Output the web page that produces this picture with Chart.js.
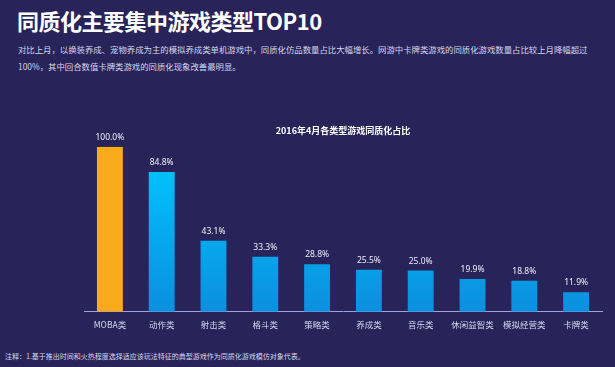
<!DOCTYPE html>
<html>
<head>
<meta charset="utf-8">
<script src="https://cdn.jsdelivr.net/npm/chart.js@4"></script>
<style>
  html, body { margin: 0; padding: 0; }
  body {
    width: 615px; height: 367px; overflow: hidden; position: relative;
    background: #28245a; font-family: "Noto Sans CJK SC", "Noto Sans", sans-serif; color: #fff;
  }
  #head { position: absolute; left: 17px; top: 4px; font-size: 22px; font-weight: bold; letter-spacing: -0.5px; }
  #desc { position: absolute; left: 18px; top: 41px; font-size: 8.4px; line-height: 17px; color: #d6d6ea; white-space: nowrap; }
  #note { position: absolute; left: 5px; top: 351px; font-size: 7px; color: #d6d6ea; white-space: nowrap; }
  #wrap { position: absolute; left: 0; top: 0; width: 615px; height: 367px; }
</style>
</head>
<body>
<div id="head">同质化主要集中游戏类型TOP10</div>
<div id="desc">对比上月，以换装养成、宠物养成为主的模拟养成类单机游戏中，同质化仿品数量占比大幅增长。网游中卡牌类游戏的同质化游戏数量占比较上月降幅超过<br>100%，其中回合数值卡牌类游戏的同质化现象改善最明显。</div>
<div id="note">注释：1.基于推出时间和火热程度选择适应该玩法特征的典型游戏作为同质化游戏模仿对象代表。</div>
<div id="wrap"><canvas id="chart"></canvas></div>
<script>
const categories = ['MOBA类', '动作类', '射击类', '格斗类', '策略类', '养成类', '音乐类', '休闲益智类', '模拟经营类', '卡牌类'];
const shares = [100.0, 84.8, 43.1, 33.3, 28.8, 25.5, 25.0, 19.9, 18.8, 11.9];
const chartTitle = '2016年4月各类型游戏同质化占比';

// value labels above each bar
const valueLabels = {
    id: 'valueLabels',
    afterDatasetsDraw(chart) {
        const ctx = chart.ctx;
        const meta = chart.getDatasetMeta(0);
        ctx.save();
        ctx.fillStyle = '#eeeef8';
        ctx.font = '8.5px "Noto Sans", sans-serif';
        ctx.textAlign = 'center';
        ctx.textBaseline = 'bottom';
        meta.data.forEach((bar, i) => {
            ctx.fillText(shares[i].toFixed(1) + '%', bar.x, bar.y - 5);
        });
        ctx.restore();
    }
};

function barColor(context) {
    if (context.dataIndex === 0) return '#f9ab1c';
    const area = context.chart.chartArea;
    if (!area) return '#00b4f4';
    const g = context.chart.ctx.createLinearGradient(0, area.top, 0, area.bottom);
    g.addColorStop(0, '#00c8ff');
    g.addColorStop(1, '#0b8fdf');
    return g;
}

new Chart(document.getElementById('chart'), {
    type: 'bar',
    data: {
        labels: categories,
        datasets: [{
            data: shares,
            backgroundColor: barColor,
            barPercentage: 0.5,
            categoryPercentage: 1
        }]
    },
    options: {
        responsive: true,
        maintainAspectRatio: false,
        animation: false,
        layout: { padding: { left: 84, right: 13, top: 0, bottom: 29 } },
        plugins: {
            legend: { display: false },
            tooltip: { enabled: false },
            title: {
                display: true,
                text: chartTitle,
                color: '#ffffff',
                font: { size: 9, weight: 'bold', family: '"Noto Sans CJK SC", sans-serif' },
                padding: { top: 125, bottom: 11 }
            }
        },
        scales: {
            x: {
                grid: { display: false, drawTicks: false },
                border: { color: '#9ea3dc', width: 1 },
                ticks: { color: '#d4d6ee', font: { size: 8.5, family: '"Noto Sans CJK SC", sans-serif' }, padding: 8 }
            },
            y: {
                display: false,
                min: 0,
                max: 100
            }
        }
    },
    plugins: [valueLabels]
});
</script>
</body>
</html>
